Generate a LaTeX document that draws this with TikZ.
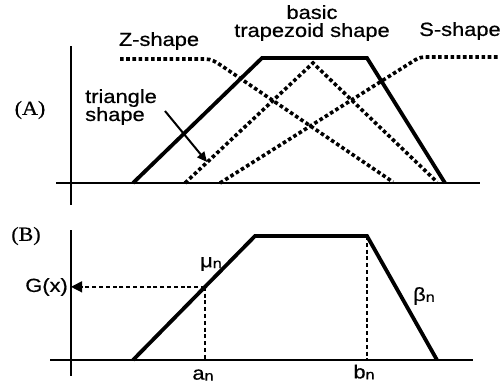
\documentclass[tikz,border=0pt]{standalone}
\usepackage{fontspec}
\setmainfont[FakeStretch=1.15,FakeBold=0.6]{Liberation Sans}
\newfontfamily\serifname[FakeStretch=1.1,FakeBold=0.6]{Liberation Serif}
\usetikzlibrary{arrows.meta,calc}
\newcommand{\lown}[1]{\raisebox{-1pt}{\fontsize{14}{15}\selectfont #1}}

\tikzset{
  axis/.style={line width=1.8pt},
  mf/.style={line width=3.8pt, line join=miter},
  dotmf/.style={line width=3.6pt, dash pattern=on 3.6pt off 2.6pt},
  guide/.style={line width=1.3pt, dash pattern=on 4pt off 2.8pt},
  lbl/.style={font=\fontsize{19}{18}\selectfont, inner sep=0pt},
  tag/.style={font=\serifname\fontsize{20}{20}\selectfont, inner sep=0pt}
}

\begin{document}
\begin{tikzpicture}[x=1pt,y=-1pt]
        \useasboundingbox (0,0) rectangle (500,384);
        % (A) -- the shapes that can be taken
        \coordinate (a0) at (71,46);
        \coordinate (a1) at (71,205);
        \coordinate (h0) at (56,183);
        \coordinate (h1) at (480,183);
        \draw[axis] (a0) -- (a1);
        \draw[axis] (h0) -- (h1);
        % basic trapezoid
        \draw[mf] (133,183) -- (262,58) -- (367,58) -- (445,183);
        % Z-shape, triangle, S-shape
        \draw[dotmf] (120,59) -- (205,59) to[out=0,in=148] (222,66) -- (393,182);
        \draw[dotmf] (185,183) -- (313,63) -- (437,182);
        \draw[dotmf] (220,183) -- (415,60) to[out=32,in=180] (428,57) -- (500,57);
        % labels
        \node[tag] (tagA) at (30,110) {(A)};
        \node[lbl] (zlab) at (159,41) {Z-shape};
        \node[lbl, align=center] (blab) at (312,23) {basic\\trapezoid shape};
        \node[lbl] (slab) at (460,31) {S-shape};
        \node[lbl, align=left, anchor=north west] (trilab) at (85,89) {triangle\\shape};
        \coordinate (t0) at (165,111);
        \coordinate (t1) at (207,162);
        \draw[line width=2pt, -{Triangle[length=10pt,width=9pt]}] (t0) -- (t1);

        % (B) -- grade of membership G(x)
        \coordinate (b0) at (71,230);
        \coordinate (b1) at (71,376);
        \coordinate (g0) at (50,360);
        \coordinate (g1) at (473,360);
        \draw[axis] (b0) -- (b1);
        \draw[axis] (g0) -- (g1);
        \coordinate (pa) at (133,360);
        \coordinate (pb) at (255,236);
        \coordinate (pc) at (367,236);
        \coordinate (pd) at (437,360);
        \draw[mf] (pa) -- (pb) -- (pc) -- (pd);
        \coordinate (mu) at ($(pa)!0.59!(pb)$);
        \coordinate (an) at (mu |- pa);
        \coordinate (bn) at (pc |- pa);
        \coordinate (gx) at (mu -| b0);
        \draw[guide] (mu) -- (an);
        \draw[guide] (pc) -- (bn);
        \draw[guide, -{Triangle[length=11pt,width=11pt]}] (mu) -- (gx);
        \node[tag] (tagB) at (26,236) {(B)};
        \node[lbl, anchor=east] (glab) at (68,287) {G(x)};
        \node[lbl] (mulab) at (211,264) {μ\lown{n}};
        \node[lbl] (alab) at (203,375) {a\lown{n}};
        \node[lbl] (blab2) at (364,372) {b\lown{n}};
        \node[lbl] (betalab) at (424,296) {β\lown{n}};
      \end{tikzpicture}
\end{document}
